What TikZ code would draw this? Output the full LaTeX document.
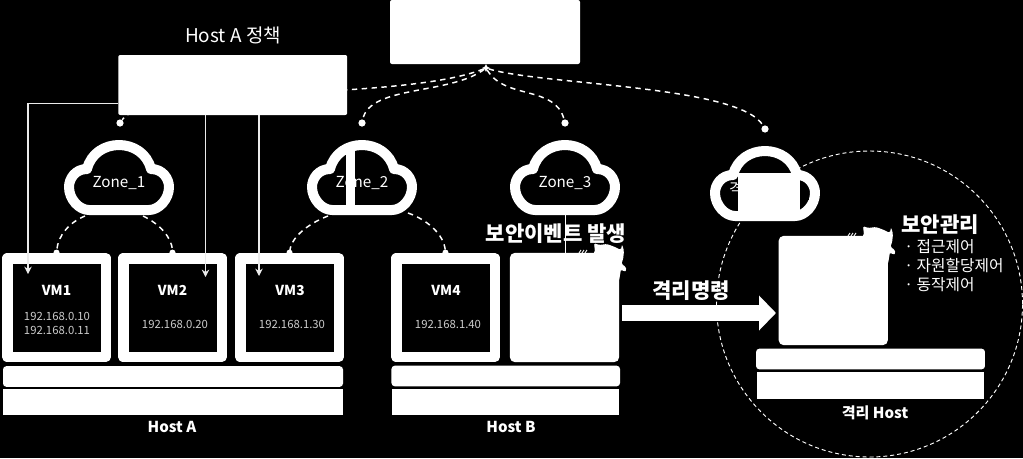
\documentclass[tikz,border=0pt]{standalone}
\usepackage{fontspec}
\setmainfont{Noto Sans CJK KR}
\usetikzlibrary{shapes.geometric, arrows.meta, calc}

\tikzset{
    zonecloud/.pic={
        \draw[draw=white, fill=black, line width=7.5pt, line join=round]
            (-32,-8) .. controls (-28,-24) and (-14,-32) .. (0,-32)
            .. controls (14,-32) and (28,-24) .. (32,-8)
            .. controls (44,-8) and (50,2) .. (50,10)
            .. controls (50,22) and (40,33) .. (30,33) -- (-30,33)
            .. controls (-40,33) and (-50,22) .. (-50,10)
            .. controls (-50,2) and (-44,-8) .. (-32,-8) -- cycle;
        \node[zonelabel] at (0,6) {#1};
        \coordinate (-bl) at (-34,39);
        \coordinate (-br) at (24,39);
        \coordinate (-bc) at (0,38);
    },
    flamemark/.pic={
        \fill[white, rounded corners=1.2pt] (-27,2) -- (-24,-1) -- (-25,-10) -- (-20,-8) -- (-12,-9)
            -- (-4,-6) -- (2,-3) -- (3,-9) -- (5,-2) -- (4,7) -- (2,11) -- (5,12) -- (8,17)
            -- (5,19) -- (2,16) -- (1,22) -- (0,28) -- (-4,28) -- cycle;
        \draw[white, line width=0.7pt] (-40,0) -- (-38,-3) (-37,0) -- (-35,-3) (-34,0) -- (-32,-3);
    }
}

\begin{document}
\begin{tikzpicture}[
    x=0.75pt, y=-0.75pt,
    panel/.style={rectangle, draw=none, fill=white, rounded corners=1.5pt, inner sep=0pt},
    bartop/.style={panel, minimum height=15.5pt, rounded corners=2.5pt},
    barbase/.style={panel, minimum height=20.2pt, rounded corners=0pt},
    vmbox/.style={rectangle, draw=white, fill=black, line width=7.9pt, line join=round, minimum width=73.9pt, minimum height=73.9pt},
    vmfull/.style={rectangle, fill=white, rounded corners=3.5pt, minimum width=81.8pt, minimum height=81.8pt},
    zonedot/.style={circle, fill=white, inner sep=0pt, minimum size=5.4pt},
    zonelink/.style={white, line width=1.1pt, dash pattern=on 4pt off 3.4pt},
    vmlink/.style={zonelink, -{Circle[length=4.5pt]}, shorten >=-2pt},
    policyline/.style={white!92!black, line width=1.1pt, -{Stealth[length=5.5pt, width=5.5pt]}},
    moveline/.style={white, line width=12pt, -{Triangle[length=12.75pt, width=25.5pt]}},
    zonelabel/.style={text=white, font=\fontsize{11.4}{13}\selectfont},
    vmlabel/.style={text=white, font=\bfseries\fontsize{10.3}{13}\selectfont},
    iplabel/.style={text=white!80!black, font=\fontsize{8.5}{10.5}\selectfont, align=center},
    hostlabel/.style={text=white, font=\bfseries\fontsize{11.3}{13}\selectfont},
    eventlabel/.style={text=white, font=\bfseries\fontsize{15.8}{18}\selectfont}
]

\fill[black] (0,0) rectangle (1023,458);
\useasboundingbox (0,0) rectangle (1023,458);

% Isolation boundary
\node[circle, draw=white, line width=0.7pt, dash pattern=on 3pt off 2.2pt, minimum size=229.5pt, inner sep=0pt] (isozone) at (869.5,304) {};

% Dots above the zones
\node[star, star points=4, star point ratio=2.2, fill=white, inner sep=0pt, minimum size=6pt] (hub) at (486,68) {};
\node[zonedot] (dot1) at (120,123) {};
\node[zonedot] (dot2) at (362,123) {};
\node[zonedot] (dot3) at (565,123) {};
\node[zonedot] (dot4) at (765,129) {};

% Links from the manager
\draw[zonelink] (hub) .. controls (400,102) and (145,85) .. (dot1);
\draw[zonelink] (hub) .. controls (450,95) and (370,85) .. (dot2);
\draw[zonelink] (hub) .. controls (505,100) and (555,85) .. (dot3);
\draw[zonelink] (hub) .. controls (540,85) and (740,85) .. (dot4);

% Policy boxes
\node[panel, minimum width=171.7pt, minimum height=45pt] (policy) at (232.75,85) {};
\node[panel, minimum width=142.5pt, minimum height=48pt] (manager) at (485,32) {};
\node[text=white, font=\fontsize{14.2}{16}\selectfont] (policytitle) at (233,35) {Host A 정책};

% Zones
\pic (zone1) at (119,177) {zonecloud={Zone\_1}};
\pic (zone2) at (362,177) {zonecloud={Zone\_2}};
\pic (zone3) at (565,177) {zonecloud={Zone\_3}};
\pic (zone4) at (765,183) {zonecloud={\hspace{-33pt}격리}};
\fill[white] (345.5,147) rectangle (355,206);
\fill[white] (738,173) rectangle (800,220);
\draw[black, line width=0.7pt] (808,190) -- (808,200);

% Host A
\node[vmbox] (vm1) at (56.5,307.5) {};
\node[vmbox] (vm2) at (172.5,307.5) {};
\node[vmbox] (vm3) at (289.5,307.5) {};
\node[bartop, minimum width=255pt] (hosta1) at (173,376.5) {};
\node[barbase, minimum width=255pt] (hosta2) at (173,402) {};
\node[hostlabel] (hosta) at (172,427) {Host A};

% Host B
\node[vmbox] (vm4) at (445.5,307.5) {};
\node[vmfull] (vm5) at (564.5,307.5) {};
\node[bartop, minimum width=171.4pt] (hostb1) at (505.75,376) {};
\node[barbase, minimum width=170pt] (hostb2) at (505.25,402) {};
\node[hostlabel] (hostb) at (511,427) {Host B};

% Isolated host
\node[vmfull] (vmiso) at (833.25,290.5) {};
\node[bartop, minimum width=171.7pt] (isohost1) at (870.5,359) {};
\node[barbase, minimum width=170pt] (isohost2) at (870.75,385.25) {};
\node[hostlabel] (isohost) at (875,413) {격리 Host};

% Flame marks on the attacked and the moved VM
\pic at (619,253) {flamemark};
\pic at (888,236) {flamemark};

% VM labels
\node[vmlabel] (vm1name) at (56.5,290) {VM1};
\node[vmlabel] (vm2name) at (172.5,290) {VM2};
\node[vmlabel] (vm3name) at (290,290) {VM3};
\node[vmlabel] (vm4name) at (446,290) {VM4};
\node[iplabel] (vm1ip) at (57,323.5) {192.168.0.10\\192.168.0.11};
\node[iplabel] (vm2ip) at (175,324) {192.168.0.20};
\node[iplabel] (vm3ip) at (292,324) {192.168.1.30};
\node[iplabel] (vm4ip) at (448,324) {192.168.1.40};

% Policy lines
\coordinate (vm1in) at (28,274);
\coordinate (vm2in) at (205.5,277);
\coordinate (vm3in) at (259,276);
\draw[policyline] (policy.south west) ++(0,-12) -| (vm1in);
\draw[policyline] (policy.south -| vm2in) -- (vm2in);
\draw[policyline] (policy.south -| vm3in) -- (vm3in);

% Links from the zones to the VMs
\draw[vmlink] (zone1-bl) .. controls (70,222) and (58,235) .. (vm1.north);
\draw[vmlink] (zone1-br) .. controls (160,224) and (172,238) .. (vm2.north);
\draw[vmlink] (zone2-bl) .. controls (312,222) and (292,235) .. (vm3.north);
\draw[vmlink] ($(zone2-br)+(22,-3)$) .. controls (428,220) and (444,235) .. (vm4.north);
\draw[white, line width=0.6pt] (zone3-bc) -- (zone3-bc |- vm5.north);

% Event and isolation labels
\node[eventlabel, inner sep=1pt] (eventtext) at (556,234) {보안이벤트 발생};
\coordinate (movefrom) at (622,313);
\coordinate (moveto) at (776,313);
\draw[moveline] (movefrom) -- (moveto);
\node[eventlabel] (movetext) at (691,291) {격리명령};
\node[eventlabel] (mgmttext) at (940,225) {보안관리};
\node[text=white, font=\fontsize{11.8}{14.3}\selectfont, anchor=north west, align=left, inner sep=0pt] (mgmtlist) at (904,239) {· 접근제어\\· 자원할당제어\\· 동작제어};

\end{tikzpicture}
\end{document}
